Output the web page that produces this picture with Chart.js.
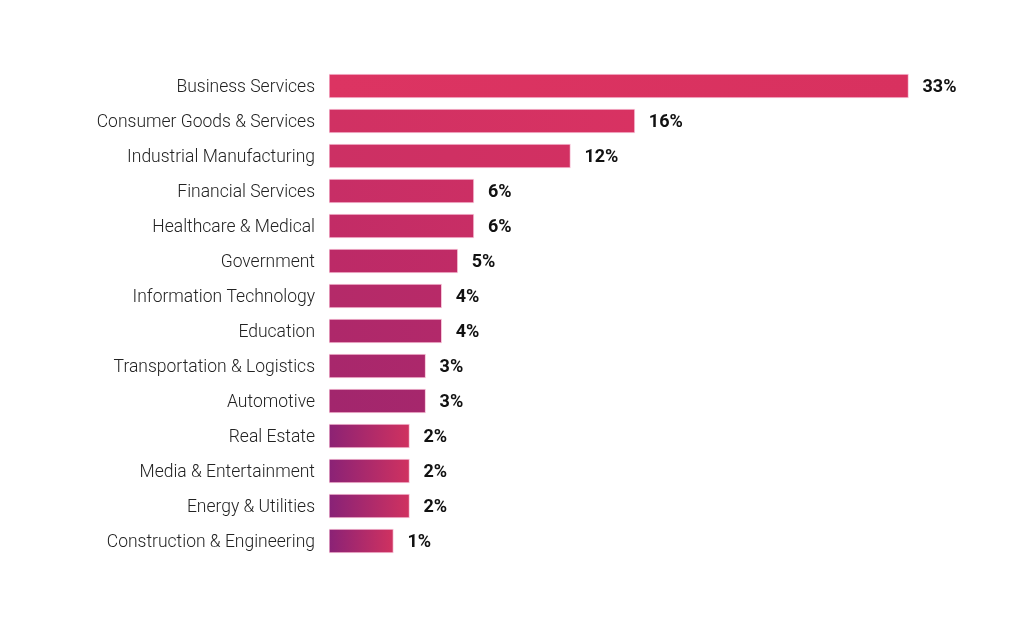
<!DOCTYPE html>
<html>
<head>
<meta charset="utf-8">
<script src="https://cdn.jsdelivr.net/npm/chart.js@4"></script>
<style>
  html, body { margin: 0; padding: 0; background: #fff; }
  #wrap { width: 1027px; height: 627px; position: relative; }
</style>
</head>
<body>
<div id="wrap"><canvas id="industryChart"></canvas></div>
<script>
// 行业分类
const industries = [
    'Business Services', 'Consumer Goods & Services', 'Industrial Manufacturing',
    'Financial Services', 'Healthcare & Medical', 'Government',
    'Information Technology', 'Education', 'Transportation & Logistics',
    'Automotive', 'Real Estate', 'Media & Entertainment',
    'Energy & Utilities', 'Construction & Engineering'
];
// 占比 (%)
const shares = [33, 16, 12, 6, 6, 5, 4, 4, 3, 3, 2, 2, 2, 1];

// 每根柱子的渐变颜色 (左 -> 右)
const barStart = ['#dc3462', '#d03163', '#cc3064', '#c72e66', '#c22c66', '#bc2a67', '#b42a69',
                  '#ae286a', '#a8276c', '#a2266d', '#8c2274', '#8a2276', '#882277', '#8a2276'];
const barEnd   = ['#d8315f', '#d83262', '#d23062', '#cc2f64', '#c82e65', '#c02b66', '#b82a68',
                  '#b2296a', '#ac286b', '#a6276c', '#d03260', '#d03260', '#d03260', '#d03260'];

const AXIS_MIN = -3;

// 柱子渐变
function barGradient(context) {
    const chart = context.chart;
    const area = chart.chartArea;
    const i = context.dataIndex;
    if (!area) return barEnd[i];
    const xScale = chart.scales.x;
    const x0 = xScale.getPixelForValue(AXIS_MIN);
    const x1 = xScale.getPixelForValue(context.raw);
    const g = chart.ctx.createLinearGradient(x0, 0, x1, 0);
    g.addColorStop(0, barStart[i]);
    g.addColorStop(1, barEnd[i]);
    return g;
}

// 数值标签
const valueLabels = {
    id: 'valueLabels',
    afterDatasetsDraw(chart) {
        const ctx = chart.ctx;
        const meta = chart.getDatasetMeta(0);
        ctx.save();
        ctx.font = 'bold 18px Roboto, sans-serif';
        ctx.fillStyle = '#111';
        ctx.textAlign = 'left';
        ctx.textBaseline = 'middle';
        meta.data.forEach((bar, i) => {
            ctx.fillText(shares[i] + '%', bar.x + 14, bar.y + 1);
        });
        ctx.restore();
    }
};

const ctx = document.getElementById('industryChart').getContext('2d');
new Chart(ctx, {
    type: 'bar',
    data: {
        labels: industries,
        datasets: [{
            data: shares,
            base: AXIS_MIN,
            backgroundColor: barGradient,
            borderColor: 'rgba(240,150,185,0.55)',
            borderWidth: 1,
            borderSkipped: false,
            barThickness: 24
        }]
    },
    options: {
        indexAxis: 'y',
        responsive: true,
        maintainAspectRatio: false,
        animation: false,
        layout: { padding: { top: 68.5, bottom: 68.5, left: 0, right: 38 } },
        plugins: {
            legend: { display: false },
            tooltip: { enabled: false }
        },
        scales: {
            x: {
                display: false,
                min: AXIS_MIN,
                max: 38
            },
            y: {
                grid: { display: false, drawTicks: false },
                border: { display: false },
                afterFit(scale) { scale.width = 329; },
                ticks: {
                    padding: 14,
                    labelOffset: 2,
                    color: '#222',
                    font: { family: 'Roboto, "DejaVu Sans", sans-serif', size: 17.5, weight: 300 }
                }
            }
        }
    },
    plugins: [valueLabels]
});
</script>
</body>
</html>
